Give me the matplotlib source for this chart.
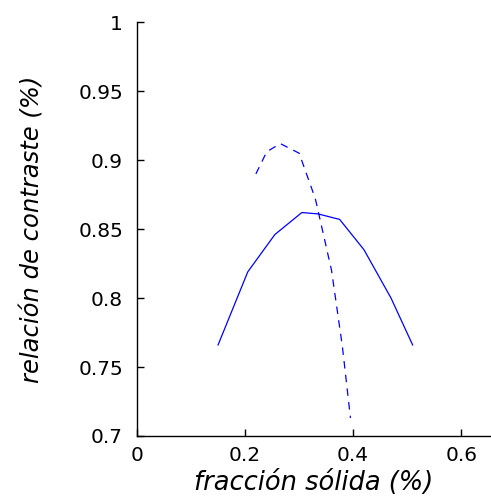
import matplotlib
matplotlib.use("Agg")
from matplotlib import pyplot as plt

# solid curve
solid_x = [0.15, 0.205, 0.255, 0.305, 0.335, 0.375, 0.42, 0.47, 0.51]
solid_y = [0.766, 0.819, 0.846, 0.862, 0.861, 0.857, 0.835, 0.80, 0.766]

# dashed curve
dash_x = [0.22, 0.24, 0.265, 0.30, 0.33, 0.36, 0.38, 0.395]
dash_y = [0.89, 0.906, 0.912, 0.905, 0.872, 0.82, 0.765, 0.713]

x_ticks = [0, 0.2, 0.4, 0.6]
x_tick_labels = ["0", "0.2", "0.4", "0.6"]
y_ticks = [0.7, 0.75, 0.8, 0.85, 0.9, 0.95, 1.0]
y_tick_labels = ["0.7", "0.75", "0.8", "0.85", "0.9", "0.95", "1"]

plt.rcParams["font.family"] = ["DejaVu Sans"]

fig = plt.figure(figsize=(4.91, 4.98), dpi=100)
ax = fig.add_axes([0.279, 0.1245, 0.721, 0.831])

ax.plot(solid_x, solid_y, color="blue", linewidth=0.9)
ax.plot(dash_x, dash_y, color="blue", linewidth=0.9, linestyle=(0, (6, 5)))

ax.set_xlim(0, 0.655)
ax.set_ylim(0.7, 1.0)
ax.set_xticks(x_ticks)
ax.set_xticklabels(x_tick_labels)
ax.set_yticks(y_ticks)
ax.set_yticklabels(y_tick_labels)

ax.spines["top"].set_visible(False)
ax.spines["right"].set_visible(False)
for s in ("left", "bottom"):
    ax.spines[s].set_linewidth(1.0)

ax.tick_params(axis="both", direction="in", length=5, width=1, labelsize=14.5, colors="black")
ax.tick_params(axis="y", pad=10)
ax.tick_params(axis="x", pad=7)

ax.set_xlabel("fracción sólida (%)", fontsize=18.5, style="italic", labelpad=4)
ax.set_ylabel("relación de contraste (%)", fontsize=17.5, style="italic", labelpad=24)

fig.savefig("out.png", dpi=100)
